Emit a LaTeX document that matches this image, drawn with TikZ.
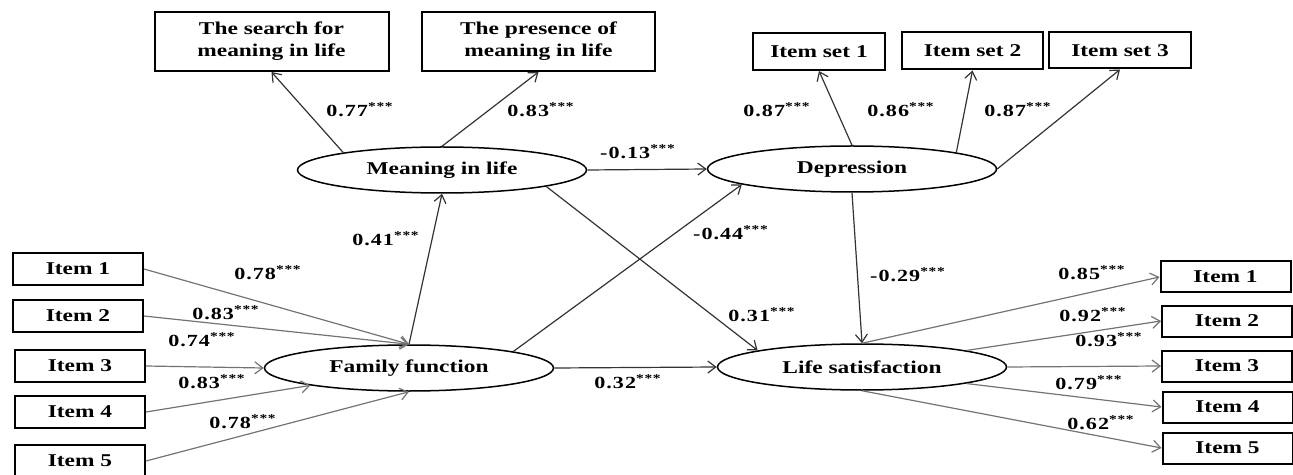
\documentclass[tikz,border=0pt]{standalone}
\usepackage{fontspec}
\setmainfont{Liberation Serif}[FakeStretch=1.3]
\newfontfamily\coeffont{Liberation Serif}[FakeStretch=1.3,LetterSpace=6]
\usetikzlibrary{shapes.geometric, arrows.meta}

\newcommand{\coef}[1]{#1\textsuperscript{***}}

\begin{document}
\begin{tikzpicture}[
    x=0.5pt, y=-0.5pt,
    box/.style={rectangle, draw, line width=1pt, minimum width=65pt, minimum height=16pt, inner sep=1pt, align=center, font=\bfseries\fontsize{9}{11}\selectfont},
    latent/.style={ellipse, draw, line width=0.75pt, minimum width=144.5pt, minimum height=23pt, inner sep=0pt, font=\bfseries\fontsize{9}{11}\selectfont},
    arrow/.style={-{Straight Barb[length=4pt, width=6pt]}, line width=0.6pt, draw=black!80},
    load/.style={arrow, draw=black!55},
    coef/.style={inner sep=0pt, font=\coeffont\bfseries\fontsize{8.5}{10}\selectfont}
]
\useasboundingbox (0,0) rectangle (1293,475);

% Latent variables
\node (mil) [latent] at (442,170) {Meaning in life};
\node (dep) [latent] at (852,169) {Depression};
\node (fam) [latent] at (409,368) {Family function};
\node (ls) [latent] at (862,367) {Life satisfaction};

% Indicators of meaning in life and depression
\node (search) [box, minimum width=117pt, minimum height=29.5pt] at (271.5,41.5) {The search for\\meaning in life};
\node (presence) [box, minimum width=116.5pt, minimum height=29.5pt] at (538.5,41.5) {The presence of\\meaning in life};
\node (set1) [box, minimum width=66pt, minimum height=18.5pt] at (819,51.5) {Item set 1};
\node (set2) [box, minimum width=70.5pt, minimum height=18.5pt] at (972.5,51) {Item set 2};
\node (set3) [box, minimum width=71pt, minimum height=18pt] at (1120,50.5) {Item set 3};

% Family function items
\node (fi1) [box] at (78,269) {Item 1};
\node (fi2) [box] at (78,316) {Item 2};
\node (fi3) [box] at (80,366) {Item 3};
\node (fi4) [box] at (80,412) {Item 4};
\node (fi5) [box] at (80,461) {Item 5};

% Life satisfaction items
\node (li1) [box, minimum height=15.5pt] at (1225.5,277) {Item 1};
\node (li2) [box, minimum height=15.5pt] at (1227,321) {Item 2};
\node (li3) [box, minimum height=15.5pt] at (1227,366) {Item 3};
\node (li4) [box, minimum height=15.5pt] at (1227.5,407) {Item 4};
\node (li5) [box, minimum height=15.5pt] at (1227.5,448) {Item 5};

% Arrows
\draw [arrow] (mil.170) -- (search.south);
\draw [arrow] (mil.north) -- (presence.south);
\draw [arrow] (mil.east) -- (dep.west);
\draw [arrow] (dep.north) -- (set1.south);
\draw [arrow] (dep.9) -- (set2.south);
\draw [arrow] (dep.east) -- (set3.south);
\draw [arrow] (fam.north) -- (mil.south);
\draw [arrow] (fam.9) -- (dep.188);
\draw [arrow] (mil.351) -- (ls.171);
\draw [arrow] (fam.east) -- (ls.west);
\draw [arrow] (dep.south) -- (ls.north);

\draw [load] (fi1.east) -- (fam.north);
\draw [load] (fi2.east) -- (fam.north);
\draw [load] (fi3.east) -- (fam.west);
\draw [load] (fi4.east) -- (fam.190);
\draw [load] (fi5.east) -- (fam.south);

\draw [load] (ls.north) -- (li1.west);
\draw [load] (ls.9) -- (li2.west);
\draw [load] (ls.east) -- (li3.west);
\draw [load] (ls.351) -- (li4.west);
\draw [load] (ls.south) -- (li5.west);

% Coefficients
\node (c-search) [coef] at (360,110) {\coef{0.77}};
\node (c-presence) [coef] at (541,110) {\coef{0.83}};
\node (c-mil-dep) [coef] at (638,152) {\coef{-0.13}};
\node (c-set1) [coef] at (777,110) {\coef{0.87}};
\node (c-set2) [coef] at (901,110) {\coef{0.86}};
\node (c-set3) [coef] at (1018,110) {\coef{0.87}};
\node (c-fam-mil) [coef] at (386,239) {\coef{0.41}};
\node (c-fam-dep) [coef] at (731,233) {\coef{-0.44}};
\node (c-mil-ls) [coef] at (762,315) {\coef{0.31}};
\node (c-fam-ls) [coef] at (628,382) {\coef{0.32}};
\node (c-dep-ls) [coef] at (908,275) {\coef{-0.29}};

\node (c-fi1) [coef] at (268,273) {\coef{0.78}};
\node (c-fi2) [coef] at (226,313) {\coef{0.83}};
\node (c-fi3) [coef] at (202,340) {\coef{0.74}};
\node (c-fi4) [coef] at (212,382) {\coef{0.83}};
\node (c-fi5) [coef] at (243,422) {\coef{0.78}};

\node (c-li1) [coef] at (1092,273) {\coef{0.85}};
\node (c-li2) [coef] at (1093,315) {\coef{0.92}};
\node (c-li3) [coef] at (1109,340) {\coef{0.93}};
\node (c-li4) [coef] at (1089,383) {\coef{0.79}};
\node (c-li5) [coef] at (1101,423) {\coef{0.62}};

\end{tikzpicture}
\end{document}
